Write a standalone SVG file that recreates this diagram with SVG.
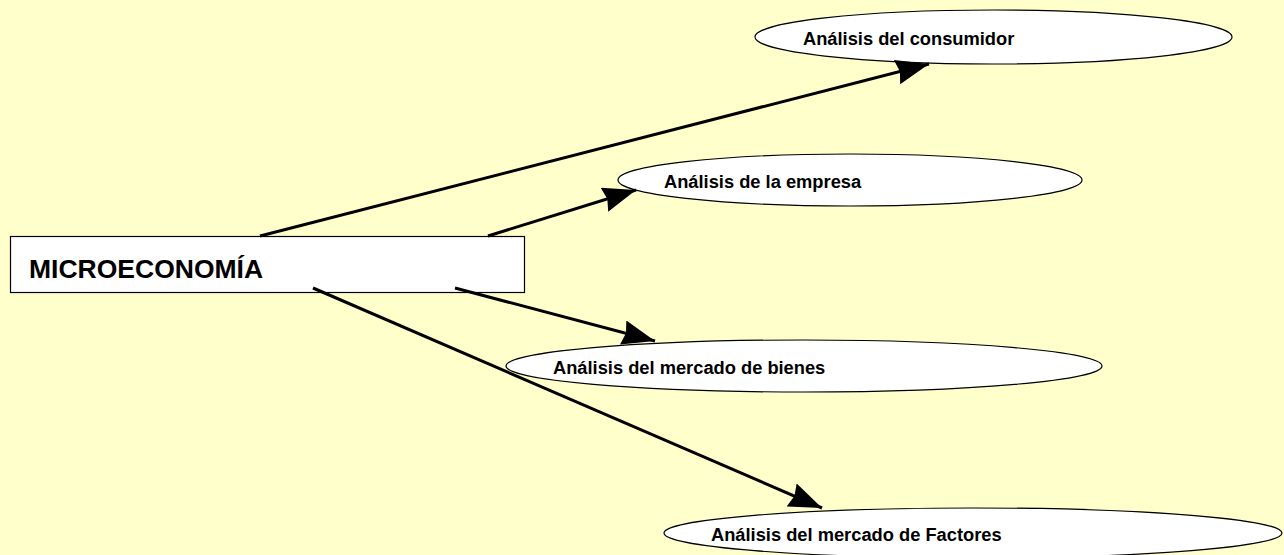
<svg xmlns="http://www.w3.org/2000/svg" width="1284" height="555" viewBox="0 0 1284 555">
<defs>
<marker id="ah" markerUnits="userSpaceOnUse" markerWidth="36" markerHeight="26" refX="33" refY="12.5" orient="auto">
<path d="M0,0 L33,12.5 L0,25 L3,12.5 Z" fill="#000"/>
</marker>
<style>
.node ellipse{fill:#fff;stroke:#000;stroke-width:1.2}
.lbl{font-family:"Liberation Sans",Arial,sans-serif;font-weight:bold;fill:#000}
.small{font-size:18.3px}
.conn line{stroke:#000;stroke-width:3;marker-end:url(#ah)}
</style>
</defs>
<rect width="1284" height="555" fill="#FFFFCC"/>
<g id="microeconomia" class="node">
<rect x="10.5" y="236.5" width="514" height="56" fill="#fff" stroke="#000" stroke-width="1.2"/>
<text class="lbl" x="29" y="278" font-size="26.5">MICROECONOMÍA</text>
</g>
<g id="consumidor" class="node">
<ellipse cx="993.5" cy="37" rx="238.5" ry="27"/>
<text class="lbl small" x="803" y="44.5">Análisis del consumidor</text>
</g>
<g id="empresa" class="node">
<ellipse cx="850" cy="180" rx="232" ry="26"/>
<text class="lbl small" x="664" y="187.5">Análisis de la empresa</text>
</g>
<g id="bienes" class="node">
<ellipse cx="804" cy="366" rx="298" ry="26"/>
<text class="lbl small" x="553" y="373.5">Análisis del mercado de bienes</text>
</g>
<g id="factores" class="node">
<ellipse cx="973" cy="533" rx="309" ry="25"/>
<text class="lbl small" x="711" y="540.5">Análisis del mercado de Factores</text>
</g>
<g id="connectors" class="conn">
<line x1="260" y1="236" x2="929" y2="64"/>
<line x1="488" y1="236" x2="636" y2="190"/>
<line x1="455" y1="288" x2="655" y2="341"/>
<line x1="313" y1="288" x2="822" y2="508"/>
</g>
</svg>
